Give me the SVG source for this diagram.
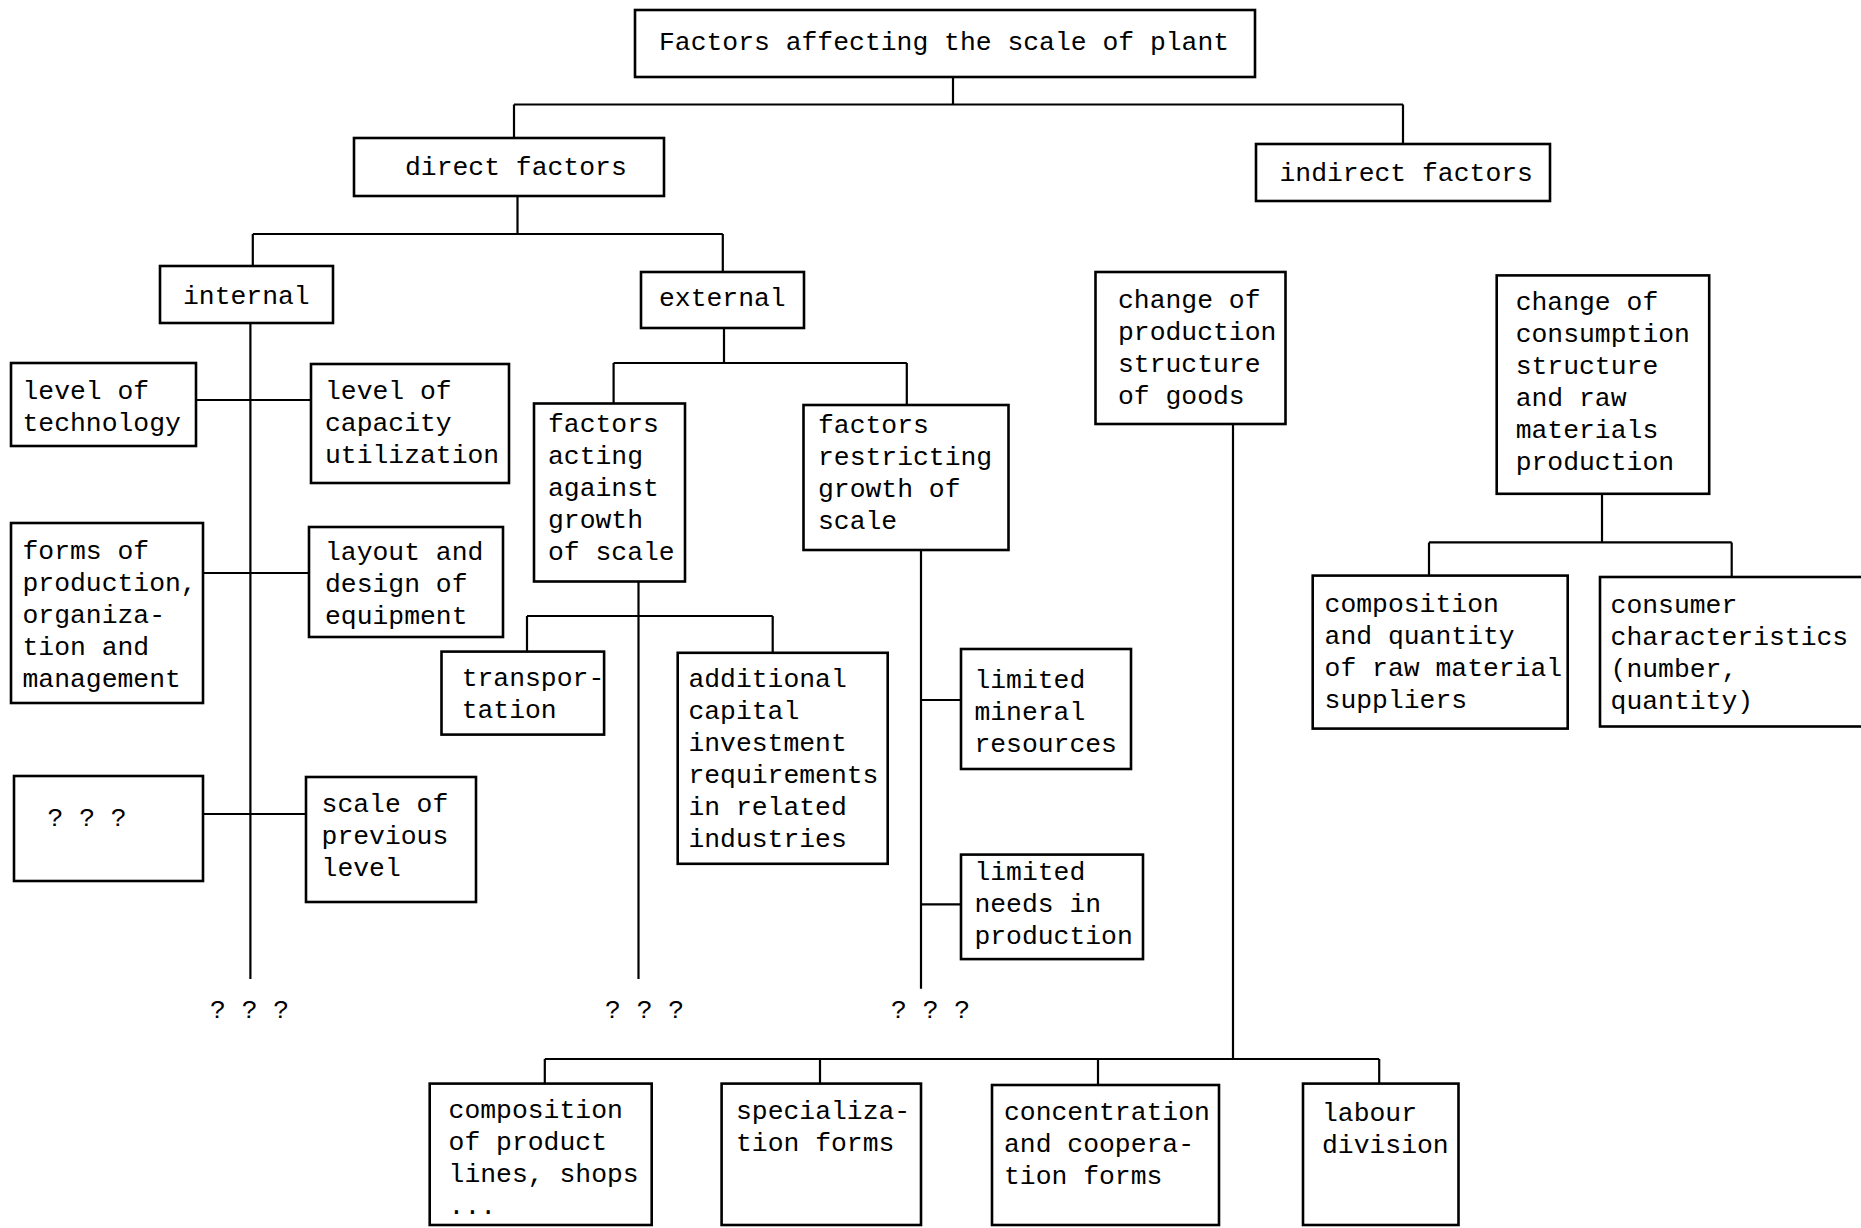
<svg xmlns="http://www.w3.org/2000/svg" width="1861" height="1228" viewBox="0 0 1861 1228">
<style>
.b{fill:none;stroke:#000;stroke-width:2.6}
.t{font-family:"Liberation Mono","DejaVu Sans Mono",monospace;font-size:26.4px;fill:#000}
.c{fill:none;stroke:#000;stroke-width:2.2}
</style>
<rect width="1861" height="1228" fill="#fff"/>
<g id="connectors">
<path class="c" d="M953 77V104.5M514 104.5H1403M514 104.5V138M1403 104.5V144"/>
<path class="c" d="M517.5 196V234M252.8 234H722.8M252.8 234V266M722.8 234V272"/>
<path class="c" d="M250.4 323V979M196 400H311M203 573H309M203 814H306"/>
<path class="c" d="M724 328V363M613.6 363H906.8M613.6 363V403.5M906.8 363V405"/>
<path class="c" d="M638.5 581.6V979M527 616H772.7M527 616V651.6M772.7 616V652.8"/>
<path class="c" d="M921 550V988.7M921 700H961M921 904.4H961"/>
<path class="c" d="M1233 424V1059M544.8 1059H1379.2M544.8 1059V1084M820 1059V1084M1098 1059V1085M1379.2 1059V1084"/>
<path class="c" d="M1602 494V542.4M1429 542.4H1731.7M1429 542.4V575.6M1731.7 542.4V577"/>
</g>
<g id="n-title"><rect class="b" x="635" y="10" width="620" height="67"/><text class="t" x="659" y="50">Factors affecting the scale of plant</text></g>
<g id="n-direct"><rect class="b" x="354" y="138" width="310" height="58"/><text class="t" x="405" y="175">direct factors</text></g>
<g id="n-indirect"><rect class="b" x="1256" y="144" width="294" height="57"/><text class="t" x="1279.5" y="181">indirect factors</text></g>
<g id="n-internal"><rect class="b" x="160" y="266" width="173" height="57"/><text class="t" x="183" y="303.5">internal</text></g>
<g id="n-external"><rect class="b" x="641" y="272" width="163" height="56"/><text class="t" x="659" y="306">external</text></g>
<g id="n-technology"><rect class="b" x="11" y="363" width="185" height="83"/><text class="t" x="22.5" y="398.5">level of<tspan x="22.5" dy="32">technology</tspan></text></g>
<g id="n-capacity"><rect class="b" x="311" y="364" width="198" height="119"/><text class="t" x="325" y="398.5">level of<tspan x="325" dy="32">capacity</tspan><tspan x="325" dy="32">utilization</tspan></text></g>
<g id="n-forms"><rect class="b" x="11" y="523" width="192" height="180"/><text class="t" x="22.5" y="558.7">forms of<tspan x="22.5" dy="32">production,</tspan><tspan x="22.5" dy="32">organiza-</tspan><tspan x="22.5" dy="32">tion and</tspan><tspan x="22.5" dy="32">management</tspan></text></g>
<g id="n-layout"><rect class="b" x="309" y="527" width="194" height="110"/><text class="t" x="325" y="560">layout and<tspan x="325" dy="32">design of</tspan><tspan x="325" dy="32">equipment</tspan></text></g>
<g id="n-unknown"><rect class="b" x="14" y="776" width="189" height="105"/><text class="t" x="47.5" y="826">? ? ?</text></g>
<g id="n-previous"><rect class="b" x="306" y="777" width="170" height="125"/><text class="t" x="321.6" y="811.5">scale of<tspan x="321.6" dy="32">previous</tspan><tspan x="321.6" dy="32">level</tspan></text></g>
<g id="n-against"><rect class="b" x="534" y="403.5" width="151" height="178"/><text class="t" x="548" y="431.7">factors<tspan x="548" dy="32">acting</tspan><tspan x="548" dy="32">against</tspan><tspan x="548" dy="32">growth</tspan><tspan x="548" dy="32">of scale</tspan></text></g>
<g id="n-restricting"><rect class="b" x="803.5" y="405" width="205" height="145"/><text class="t" x="818" y="433">factors<tspan x="818" dy="32">restricting</tspan><tspan x="818" dy="32">growth of</tspan><tspan x="818" dy="32">scale</tspan></text></g>
<g id="n-transport"><rect class="b" x="441.5" y="651.6" width="162.6" height="83"/><text class="t" x="461.7" y="685.7">transpor-<tspan x="461.7" dy="32">tation</tspan></text></g>
<g id="n-additional"><rect class="b" x="677.7" y="652.8" width="210" height="211"/><text class="t" x="688.4" y="687">additional<tspan x="688.4" dy="32">capital</tspan><tspan x="688.4" dy="32">investment</tspan><tspan x="688.4" dy="32">requirements</tspan><tspan x="688.4" dy="32">in related</tspan><tspan x="688.4" dy="32">industries</tspan></text></g>
<g id="n-mineral"><rect class="b" x="961" y="649" width="170" height="120"/><text class="t" x="974.4" y="688">limited<tspan x="974.4" dy="32">mineral</tspan><tspan x="974.4" dy="32">resources</tspan></text></g>
<g id="n-needs"><rect class="b" x="961" y="854.6" width="182" height="104.5"/><text class="t" x="974.4" y="880">limited<tspan x="974.4" dy="32">needs in</tspan><tspan x="974.4" dy="32">production</tspan></text></g>
<g id="n-prodstruct"><rect class="b" x="1095.5" y="272" width="190" height="152"/><text class="t" x="1118" y="308">change of<tspan x="1118" dy="32">production</tspan><tspan x="1118" dy="32">structure</tspan><tspan x="1118" dy="32">of goods</tspan></text></g>
<g id="n-consstruct"><rect class="b" x="1496.7" y="275.4" width="212.5" height="218.4"/><text class="t" x="1515.7" y="309.5">change of<tspan x="1515.7" dy="32">consumption</tspan><tspan x="1515.7" dy="32">structure</tspan><tspan x="1515.7" dy="32">and raw</tspan><tspan x="1515.7" dy="32">materials</tspan><tspan x="1515.7" dy="32">production</tspan></text></g>
<g id="n-suppliers"><rect class="b" x="1312.7" y="575.6" width="255" height="153"/><text class="t" x="1324.6" y="612">composition<tspan x="1324.6" dy="32">and quantity</tspan><tspan x="1324.6" dy="32">of raw material</tspan><tspan x="1324.6" dy="32">suppliers</tspan></text></g>
<g id="n-consumer"><rect class="b" x="1600" y="577" width="280" height="149.5"/><text class="t" x="1610.6" y="613">consumer<tspan x="1610.6" dy="32">characteristics</tspan><tspan x="1610.6" dy="32">(number,</tspan><tspan x="1610.6" dy="32">quantity)</tspan></text></g>
<g id="n-lines"><rect class="b" x="429.7" y="1083.6" width="222" height="141.4"/><text class="t" x="448.6" y="1117.7">composition<tspan x="448.6" dy="32">of product</tspan><tspan x="448.6" dy="32">lines, shops</tspan><tspan x="448.6" dy="32">...</tspan></text></g>
<g id="n-special"><rect class="b" x="721.6" y="1083.6" width="199.4" height="141.4"/><text class="t" x="736" y="1119">specializa-<tspan x="736" dy="32">tion forms</tspan></text></g>
<g id="n-concentration"><rect class="b" x="992" y="1085" width="227" height="140"/><text class="t" x="1004" y="1120">concentration<tspan x="1004" dy="32">and coopera-</tspan><tspan x="1004" dy="32">tion forms</tspan></text></g>
<g id="n-labour"><rect class="b" x="1303" y="1083.6" width="155.5" height="141.4"/><text class="t" x="1322" y="1121">labour<tspan x="1322" dy="32">division</tspan></text></g>
<g id="n-q1"><text class="t" x="210" y="1018">? ? ?</text></g>
<g id="n-q2"><text class="t" x="605" y="1018">? ? ?</text></g>
<g id="n-q3"><text class="t" x="891" y="1018">? ? ?</text></g>
</svg>
